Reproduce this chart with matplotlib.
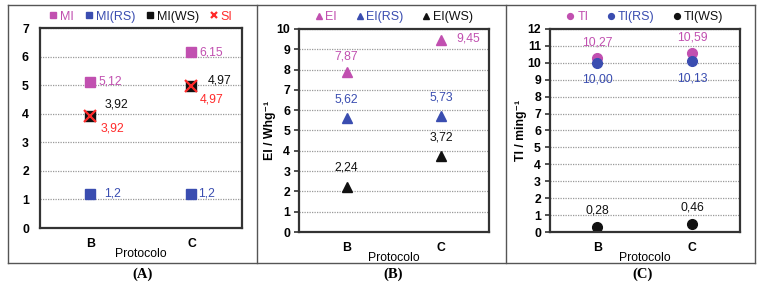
import numpy as np
import matplotlib
matplotlib.use('Agg')
import matplotlib.pyplot as plt
from matplotlib.lines import Line2D

plt.rcParams['font.family'] = ['Liberation Sans', 'DejaVu Sans']

# data
protocols = ['B', 'C']

mi = [5.12, 6.15]
mi_rs = [1.2, 1.2]
mi_ws = [3.92, 4.97]
si = [3.92, 4.97]

ei = [7.87, 9.45]
ei_rs = [5.62, 5.73]
ei_ws = [2.24, 3.72]

ti = [10.27, 10.59]
ti_rs = [10.00, 10.13]
ti_ws = [0.28, 0.46]

magenta = '#C150B0'
blue = '#3A4DB0'
red = '#FF2B2B'
black = '#111111'
spine_col = '#333333'

fs = 8.8


def fmt(v, d):
    return f'{v:.{d}f}'.replace('.', ',')


def style_axes(ax, ymax, ticks_out):
    ax.set_xlim(-0.5, 1.5)
    ax.set_ylim(0, ymax)
    ax.set_yticks(range(0, ymax + 1))
    ax.set_xticks(range(len(protocols)))
    ax.set_xticklabels(protocols, fontweight='bold', fontsize=fs)
    for lab in ax.get_yticklabels():
        lab.set_fontweight('bold')
        lab.set_fontsize(fs)
    ax.yaxis.grid(True, linestyle=(0, (1, 1)), color='#999999', linewidth=0.9)
    ax.set_axisbelow(True)
    for sp in ax.spines.values():
        sp.set_color(spine_col)
        sp.set_linewidth(1.6)
    if ticks_out:
        ax.tick_params(axis='y', direction='out', length=3.5, width=1.2, color=spine_col, pad=3)
    else:
        ax.tick_params(axis='y', length=0, pad=8)
    ax.tick_params(axis='x', length=0, pad=7)
    ax.set_xlabel('Protocolo', fontsize=fs, labelpad=-1)


def put_labels(ax, values, color, dec, offsets, ha):
    for i, v in enumerate(values):
        ax.annotate(fmt(v, dec), (i, v), xytext=offsets[i], textcoords='offset points',
                    ha=ha, va='center', color=color, fontsize=fs)


fig = plt.figure(figsize=(7.65, 2.84), dpi=100)

# ---------- (A)
axA = fig.add_axes([0.0523, 0.197, 0.264, 0.704])
x = np.arange(len(protocols))
axA.plot(x, mi, 's', color=magenta, ms=7, label='MI')
axA.plot(x, mi_rs, 's', color=blue, ms=7, label='MI(RS)')
axA.plot(x, mi_ws, 's', color=black, ms=7, label='MI(WS)')
axA.plot(x, si, 'x', color=red, ms=8, mew=1.6, label='SI')
style_axes(axA, 7, False)
put_labels(axA, mi, magenta, 2, [(6, 0), (6, 0)], 'left')
put_labels(axA, mi_rs, blue, 1, [(10, 0), (4.5, 0)], 'left')
put_labels(axA, mi_ws, black, 2, [(10, 8), (12, 4)], 'left')
put_labels(axA, si, red, 2, [(7, -9), (6, -10)], 'left')

# ---------- (B)
axB = fig.add_axes([0.391, 0.183, 0.248, 0.715])
axB.plot(x, ei, '^', color=magenta, ms=7.5, label='EI')
axB.plot(x, ei_rs, '^', color=blue, ms=7.5, label='EI(RS)')
axB.plot(x, ei_ws, '^', color=black, ms=7.5, label='EI(WS)')
style_axes(axB, 10, True)
axB.set_ylabel('EI / Whg\u207b\u00b9', fontweight='bold', fontsize=fs, labelpad=0)
put_labels(axB, [ei[0]], magenta, 2, [(0, 11)], 'center')
axB.annotate(fmt(ei[1], 2), (1, ei[1]), xytext=(11, 1), textcoords='offset points',
             ha='left', va='center', color=magenta, fontsize=fs)
put_labels(axB, ei_rs, blue, 2, [(0, 13), (0, 13)], 'center')
put_labels(axB, ei_ws, black, 2, [(0, 13.5), (0, 13.5)], 'center')

# ---------- (C)
axC = fig.add_axes([0.719, 0.183, 0.248, 0.715])
axC.plot(x, ti, 'o', color=magenta, ms=7, label='TI')
axC.plot(x, ti_rs, 'o', color=blue, ms=7, label='TI(RS)')
axC.plot(x, ti_ws, 'o', color=black, ms=7, label='TI(WS)')
style_axes(axC, 12, True)
axC.set_ylabel('TI / ming\u207b\u00b9', fontweight='bold', fontsize=fs, labelpad=0)
put_labels(axC, ti, magenta, 2, [(0, 11.5), (0, 11)], 'center')
put_labels(axC, ti_rs, blue, 2, [(0, -12), (0, -13)], 'center')
put_labels(axC, ti_ws, black, 2, [(0, 12), (0, 12)], 'center')

# legends above each panel
for ax, cs in [(axA, 0.9), (axB, 1.5), (axC, 1.5)]:
    hs, ls = ax.get_legend_handles_labels()
    ax.legend(hs, ls, loc='lower center', bbox_to_anchor=(0.5, 0.99), ncol=len(hs),
              frameon=False, fontsize=fs + 0.2, handlelength=0.6, handletextpad=0.25,
              columnspacing=cs, borderaxespad=0.2, markerscale=0.6,
              labelcolor='linecolor')

# outer frame and dividers
frame_col = '#555555'
fy0, fy1 = 1 - 263 / 284, 1 - 5 / 284
fx0, fx1 = 8 / 765, 755 / 765
for xa, xb, ya, yb in [(fx0, fx1, fy0, fy0), (fx0, fx1, fy1, fy1),
                       (fx0, fx0, fy0, fy1), (fx1, fx1, fy0, fy1),
                       (257 / 765, 257 / 765, fy0, fy1), (506 / 765, 506 / 765, fy0, fy1)]:
    fig.add_artist(Line2D([xa, xb], [ya, yb], color=frame_col, lw=1.0))

for cap, cx in [('(A)', 143 / 765), ('(B)', 393 / 765), ('(C)', 643 / 765)]:
    fig.text(cx, 1 - 274 / 284, cap, ha='center', va='center', fontsize=10.5,
             fontweight='bold', family=['Liberation Serif', 'DejaVu Serif'])

fig.savefig('out.png', dpi=100)
